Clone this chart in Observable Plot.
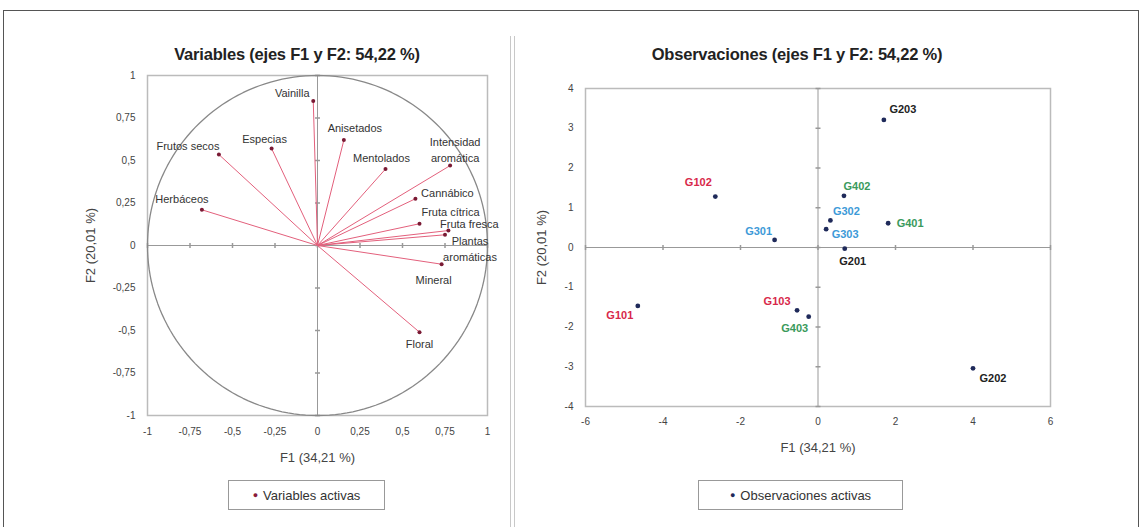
<!DOCTYPE html>
<html><head><meta charset="utf-8">
<script src="https://cdn.jsdelivr.net/npm/d3@7"></script>
<script src="https://cdn.jsdelivr.net/npm/@observablehq/plot@0.6"></script>
<style>
body{margin:0;background:#fff;font-family:"Liberation Sans",Arial,sans-serif;}
#wrap{position:relative;width:1143px;height:527px;overflow:hidden;background:#fff;}
.border{position:absolute;left:3px;top:10px;width:1134px;height:540px;border:1.5px solid #555;}
.sep{position:absolute;left:510px;top:36px;width:3px;height:520px;border-left:1px solid #c8c8c8;border-right:1px solid #c8c8c8;}
.title{position:absolute;top:45px;font-weight:bold;font-size:16.5px;color:#222;transform:translateX(-50%);white-space:nowrap;letter-spacing:-0.2px;}
.legend{position:absolute;top:480px;height:30px;box-sizing:border-box;border:1px solid #999;font-size:13px;color:#333;display:flex;align-items:center;justify-content:center;white-space:nowrap;}
.legend span.b{font-size:9px;margin-right:5px;}
#left{position:absolute;left:0;top:0;}
#right{position:absolute;left:520px;top:0;}
</style></head>
<body><div id="wrap">
<div class="border"></div>
<div class="sep"></div>
<div id="left"></div>
<div id="right"></div>
<div class="title" style="left:297px">Variables (ejes F1 y F2: 54,22 %)</div>
<div class="title" style="left:797px">Observaciones (ejes F1 y F2: 54,22 %)</div>
<div class="legend" style="left:228px;width:157px"><span class="b" style="color:#8a1a3a">&#9679;</span>Variables activas</div>
<div class="legend" style="left:698px;width:205px"><span class="b" style="color:#1f2a5a">&#9679;</span>Observaciones activas</div>
</div>
<script>
// ---- Data: variables (correlation circle) ----
const varNames = ["Vainilla","Frutos secos","Especias","Anisetados","Mentolados","Intensidad\naromática","Herbáceos","Cannábico","Fruta cítrica","Fruta fresca","Plantas\naromáticas","Mineral","Floral"];
const varF1 = [-0.025,-0.58,-0.27,0.155,0.40,0.78,-0.68,0.576,0.60,0.77,0.75,0.73,0.60];
const varF2 = [0.85,0.535,0.57,0.62,0.45,0.47,0.21,0.275,0.128,0.088,0.063,-0.11,-0.51];

// ---- Data: observations ----
const obsNames = ["G203","G102","G402","G302","G303","G301","G401","G201","G103","G403","G101","G202"];
const obsF1 = [1.70,-2.65,0.67,0.32,0.21,-1.12,1.81,0.69,-0.54,-0.24,-4.65,4.0];
const obsF2 = [3.21,1.28,1.30,0.68,0.46,0.19,0.61,-0.03,-1.58,-1.74,-1.47,-3.04];
const obsGroup = ["G2","G1","G4","G3","G3","G3","G4","G2","G1","G4","G1","G2"];

// ---- Tick values ----
const varTicks = [-1,-0.75,-0.5,-0.25,0,0.25,0.5,0.75,1];
const obsXTicks = [-6,-4,-2,0,2,4,6];
const obsYTicks = [-4,-3,-2,-1,0,1,2,3,4];

// ---- Layout (label nudges in px) ----
const varNudge = [[-21,-9],[-31,-10],[-7,-11],[11,-13],[-4,-12],[5,-17],[-20,-12],[32,-7],[31,-13],[21,-8],[25,13],[-8,15],[0,11]];
const obsNudge = [[19,-10],[-17,-14],[13,-9],[16,-9],[19,5],[-16,-8],[22,0],[8,13],[-20,-9],[-14,12],[-18,10],[20,10]];
const groupColor = {G1:"#d8284a", G2:"#222222", G3:"#3d9ad8", G4:"#3a9a5c"};

const fmt = d => String(d).replace(".", ",");
const font = {fontFamily:"'Liberation Sans',Arial,sans-serif", fontSize:"10px", color:"#444", background:"transparent", overflow:"visible"};

const vars = varNames.map((n,i)=>({name:n, f1:varF1[i], f2:varF2[i]}));
const obs = obsNames.map((n,i)=>({name:n, f1:obsF1[i], f2:obsF2[i], g:obsGroup[i]}));

const hTick = {draw(ctx,size){const r=Math.sqrt(size/Math.PI); ctx.moveTo(-r,0); ctx.lineTo(r,0);}};
const vTick = {draw(ctx,size){const r=Math.sqrt(size/Math.PI); ctx.moveTo(0,-r); ctx.lineTo(0,r);}};

const circle = d3.range(0,361,2).map(a=>({x:Math.cos(a*Math.PI/180), y:Math.sin(a*Math.PI/180)}));

function axes(xt, yt, xf, yf, padX, padY, offX, offY){
  return [
    Plot.axisX({ticks:xt, tickFormat:xf, tickSize:0, tickPadding:padX, fontSize:10, fill:"#444", label:null}),
    Plot.axisY({ticks:yt, tickFormat:yf, tickSize:0, tickPadding:padY, fontSize:10, fill:"#444", label:null}),
    Plot.axisX({ticks:[], tickSize:0, label:"F1 (34,21 %)", labelAnchor:"center", labelArrow:"none", labelOffset:offX, fontSize:13, fill:"#444"}),
    Plot.axisY({ticks:[], tickSize:0, label:"F2 (20,01 %)", labelAnchor:"center", labelArrow:"none", labelOffset:offY, fontSize:13, fill:"#444"})
  ];
}

const left = Plot.plot({
  width:510, height:470,
  marginLeft:147, marginRight:23, marginTop:75, marginBottom:55,
  style:font,
  x:{domain:[-1,1]}, y:{domain:[-1,1]},
  marks:[
    Plot.frame({stroke:"#bbb", strokeWidth:1.5}),
    Plot.ruleX([0],{stroke:"#999"}),
    Plot.ruleY([0],{stroke:"#999"}),
    Plot.dot(varTicks,{x:0, y:d=>d, symbol:hTick, r:2.5, stroke:"#999"}),
    Plot.dot(varTicks,{x:d=>d, y:0, symbol:vTick, r:2.5, stroke:"#999"}),
    Plot.line(circle,{x:"x", y:"y", stroke:"#888", strokeWidth:1.3}),
    Plot.link(vars,{x1:0, y1:0, x2:"f1", y2:"f2", stroke:"#e3607c", strokeWidth:1}),
    Plot.dot(vars,{x:"f1", y:"f2", r:2, fill:"#7a1a34"}),
    ...vars.map((d,i)=>Plot.text([d],{x:"f1", y:"f2", text:"name", dx:varNudge[i][0], dy:varNudge[i][1], fill:"#333", fontSize:11, lineHeight:1.45})),
    ...axes(varTicks, varTicks, fmt, fmt, 12, 12, 46, 62)
  ]
});
document.getElementById("left").append(left);

const right = Plot.plot({
  width:623, height:470,
  marginLeft:65, marginRight:93, marginTop:88, marginBottom:64,
  style:font,
  x:{domain:[-6,6]}, y:{domain:[-4,4]},
  marks:[
    Plot.frame({stroke:"#bbb", strokeWidth:1.5}),
    Plot.ruleX([0],{stroke:"#999"}),
    Plot.ruleY([0],{stroke:"#999"}),
    Plot.dot(obsYTicks,{x:0, y:d=>d, symbol:hTick, r:2.5, stroke:"#999"}),
    Plot.dot(obsXTicks,{x:d=>d, y:0, symbol:vTick, r:2.5, stroke:"#999"}),
    Plot.dot(obs,{x:"f1", y:"f2", r:2.4, fill:"#1f2a5a"}),
    ...obs.map((d,i)=>Plot.text([d],{x:"f1", y:"f2", text:"name", dx:obsNudge[i][0], dy:obsNudge[i][1], fill:groupColor[d.g], fontSize:11, fontWeight:"bold"})),
    ...axes(obsXTicks, obsYTicks, d=>String(d), d=>String(d), 11, 12, 45, 49)
  ]
});
document.getElementById("right").append(right);
</script>
</body></html>
